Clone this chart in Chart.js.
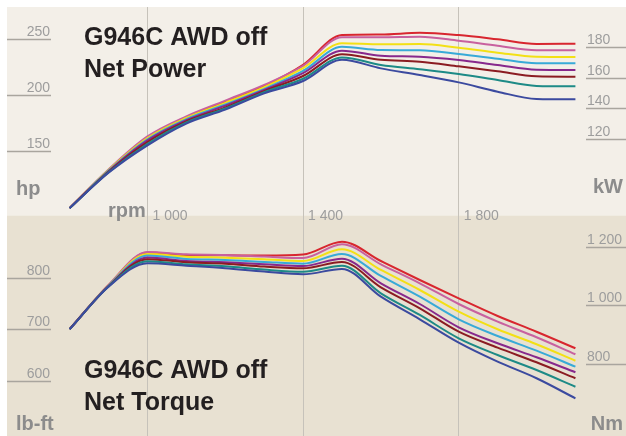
<!DOCTYPE html>
<html>
<head>
<meta charset="utf-8">
<script src="https://cdn.jsdelivr.net/npm/chart.js@4/dist/chart.umd.min.js"></script>
<style>
  html, body { margin: 0; padding: 0; background: #fff; }
  #wrap { position: absolute; left: 7px; top: 7px; width: 619px; height: 429px; }
</style>
</head>
<body>
<div id="wrap"><canvas id="chart" width="619" height="429"></canvas></div>
<script>
// engine speed, rpm
const rpm = [800, 900, 1000, 1100, 1200, 1300, 1400, 1500, 1600, 1700, 1800, 1900, 2000, 2100];

// net power, hp (one curve per colour)
const powerRed    = [99, 133, 162, 180, 194, 208, 227, 253.6, 254, 255.5, 253.5, 249.7, 245.5, 245.8];
const powerPink   = [99, 133.5, 163, 181, 195, 209, 226, 251.5, 251.5, 252, 248.5, 244, 240, 239.9];
const powerYellow = [99, 133, 161.5, 179.5, 193, 207, 224, 246.2, 245.3, 245.5, 242.2, 237.8, 234.2, 233.9];
const powerCyan   = [99, 132.5, 160.5, 178.5, 191.5, 205.5, 221.5, 243, 240.2, 239.9, 236.6, 232.4, 228.3, 228.3];
const powerPurple = [99, 132, 159.5, 177.5, 190.5, 204.5, 219.5, 239.6, 235.1, 234.2, 231.3, 226.8, 222.6, 222.3];
const powerMaroon = [99, 131.5, 158, 176.5, 189, 203.5, 217, 236.4, 231.5, 229.7, 225.6, 221.2, 216.7, 216.3];
const powerTeal   = [99, 131, 156.5, 175.5, 188, 202.5, 214.5, 233.6, 226.8, 223, 218.8, 213.4, 208.1, 207.8];
const powerBlue   = [99, 130.5, 155, 174.5, 187, 201.5, 212.5, 231.4, 223.8, 217.9, 211.3, 203, 196.5, 196.2];

// net torque, lb-ft
const torqueRed    = [700, 785.5, 849, 844, 843.5, 843.1, 845, 869.9, 832.4, 795.5, 760, 725.6, 695.1, 662.9];
const torquePink   = [700, 786, 850, 845.4, 844.1, 841, 838, 864.8, 826, 789.1, 748.9, 714.6, 684.3, 651.3];
const torqueYellow = [700, 785, 846, 840.8, 838.8, 836, 832.4, 855.1, 815, 776.1, 734, 699.8, 670.7, 638.8];
const torqueCyan   = [700, 784.5, 843, 836.3, 834.4, 830.7, 827.2, 846, 803.3, 763.1, 719.2, 686.8, 658.3, 627.2];
const torquePurple = [700, 784, 839, 832.4, 829.9, 826.2, 822.7, 836.9, 789.1, 748.9, 703.7, 672.6, 645.4, 616.3];
const torqueMaroon = [700, 783.5, 836, 829.9, 827.2, 821.6, 818.3, 830.5, 781.4, 740.6, 695.1, 664.1, 635.7, 604.7];
const torqueTeal   = [700, 783, 832, 826, 822.1, 815.7, 811.7, 823.3, 769.7, 727.6, 682.3, 649.9, 620.8, 588.3];
const torqueBlue   = [700, 782.5, 828, 823.3, 818.3, 811.8, 806.6, 816.9, 763.1, 719.2, 673.8, 636.9, 604.7, 565.8];

// tick labels
const rpmTicks = [1000, 1400, 1800];
const hpTicks = [150, 200, 250];
const kwTicks = [120, 140, 160, 180];
const lbftTicks = [600, 700, 800];
const nmTicks = [800, 1000, 1200];

const colors = ['#d8262f', '#c8619f', '#f3e015', '#38aad7', '#87288c', '#8b1c22', '#1d8a86', '#3b4a9f'];
const powerSeries = [powerRed, powerPink, powerYellow, powerCyan, powerPurple, powerMaroon, powerTeal, powerBlue];
const torqueSeries = [torqueRed, torquePink, torqueYellow, torqueCyan, torquePurple, torqueMaroon, torqueTeal, torqueBlue];

const SPLIT = 208.5;
const FONT = '"Liberation Sans", Arial, sans-serif';

const toPoints = (vals) => vals.map((v, i) => ({ x: rpm[i], y: v }));
const fmt = (v) => String(v).replace(/\B(?=(\d{3})+(?!\d))/g, ' ');

const lineSet = (vals, i, axis) => ({
  data: toPoints(vals),
  yAxisID: axis,
  borderColor: colors[i],
  borderWidth: 2,
  pointRadius: 0,
  cubicInterpolationMode: 'monotone',
  order: 8 - i,
});

const datasets = [
  ...powerSeries.map((s, i) => lineSet(s, i, 'hp')),
  ...torqueSeries.map((s, i) => lineSet(s, i, 'lbft')),
];

const panels = {
  id: 'panels',
  beforeDraw(chart) {
    const { ctx, width, height } = chart;
    ctx.save();
    ctx.fillStyle = '#f3efe8';
    ctx.fillRect(0, 0, width, SPLIT);
    ctx.fillStyle = '#e8e1d2';
    ctx.fillRect(0, SPLIT, width, height - SPLIT);
    ctx.restore();
  },
  afterDraw(chart) {
    const { ctx, width, scales } = chart;
    ctx.save();
    ctx.strokeStyle = '#a9a59e';
    ctx.lineWidth = 1.5;
    ctx.fillStyle = '#9d9d9d';
    ctx.font = '14px ' + FONT;

    const leftTicks = (scale, vals) => vals.forEach((v) => {
      const y = Math.round(scale.getPixelForValue(v)) + 0.5;
      ctx.beginPath(); ctx.moveTo(0, y); ctx.lineTo(44, y); ctx.stroke();
      ctx.textAlign = 'right';
      ctx.fillText(fmt(v), 43, y - 3.5);
    });
    const rightTicks = (scale, vals) => vals.forEach((v) => {
      const y = Math.round(scale.getPixelForValue(v)) + 0.5;
      ctx.beginPath(); ctx.moveTo(579, y); ctx.lineTo(width, y); ctx.stroke();
      ctx.textAlign = 'left';
      ctx.fillText(fmt(v), 580, y - 3.5);
    });
    leftTicks(scales.hp, hpTicks);
    rightTicks(scales.kw, kwTicks);
    leftTicks(scales.lbft, lbftTicks);
    rightTicks(scales.nm, nmTicks);

    ctx.textAlign = 'left';
    rpmTicks.forEach((v) => {
      ctx.fillText(fmt(v), scales.x.getPixelForValue(v) + 5, 212.5);
    });

    // unit labels
    ctx.fillStyle = '#8c8c8c';
    ctx.font = 'bold 20px ' + FONT;
    ctx.textAlign = 'left';
    ctx.fillText('hp', 9, 188);
    ctx.fillText('lb-ft', 9, 423);
    ctx.fillText('rpm', 101, 210);
    ctx.textAlign = 'right';
    ctx.fillText('kW', 616, 186);
    ctx.fillText('Nm', 616, 423);

    // titles
    ctx.fillStyle = '#231f20';
    ctx.font = 'bold 25px ' + FONT;
    ctx.textAlign = 'left';
    ctx.fillText('G946C AWD off', 77, 38);
    ctx.fillText('Net Power', 77, 70);
    ctx.fillText('G946C AWD off', 77, 371);
    ctx.fillText('Net Torque', 77, 403);
    ctx.restore();
  },
};

new Chart(document.getElementById('chart'), {
  type: 'line',
  data: { datasets },
  options: {
    responsive: false,
    devicePixelRatio: 1,
    animation: false,
    layout: { padding: 0 },
    plugins: { legend: { display: false }, tooltip: { enabled: false } },
    scales: {
      x: {
        type: 'linear',
        axis: 'x',
        position: 'bottom',
        min: 639,
        max: 2230,
        afterBuildTicks: (axis) => { axis.ticks = rpmTicks.map((v) => ({ value: v })); },
        ticks: { display: false },
        grid: { color: '#c6c2ba', lineWidth: 1, drawTicks: false },
        border: { display: false },
      },
      hp: { type: 'linear', axis: 'y', position: 'left', display: false, min: -104.5, max: 278.6 },
      kw: { type: 'linear', axis: 'y', position: 'right', display: false, min: -75.2, max: 206.5 },
      lbft: { type: 'linear', axis: 'y', position: 'left', display: false, min: 492.6, max: 1325.6 },
      nm: { type: 'linear', axis: 'y', position: 'right', display: false, min: 556.1, max: 2015.3 },
    },
  },
  plugins: [panels],
});
</script>
</body>
</html>
